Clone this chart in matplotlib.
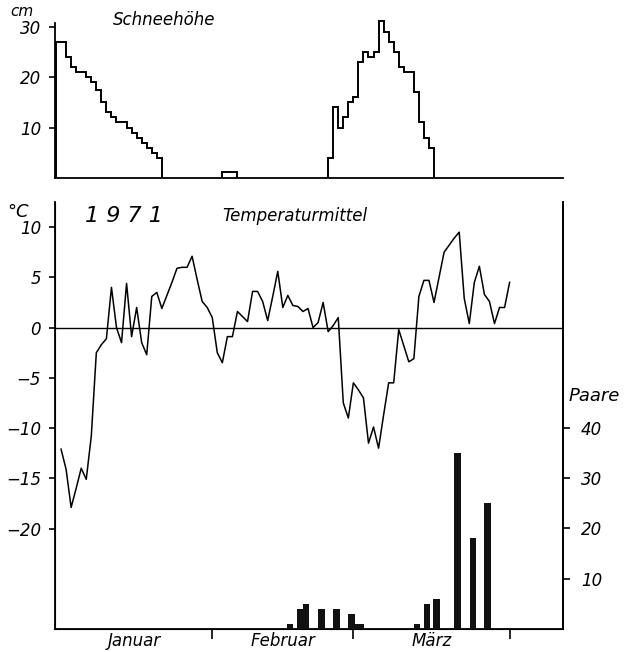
import matplotlib.pyplot as plt

plt.rcParams['font.family'] = ['DejaVu Sans']
plt.rcParams['font.style'] = 'italic'

# snow depth (cm), daily steps
snow1_start = 0
snow1 = [27, 27, 24, 22, 21, 21, 20, 19, 17.5, 15, 13, 12, 11, 11, 10, 9, 8, 7, 6, 5, 4]
snow2_start = 33
snow2 = [1.2, 1.2, 1.2]
snow3_start = 54
snow3 = [4, 14, 10, 12, 15, 16, 23, 25, 24, 25, 31, 29, 27, 25, 22, 21, 21, 17, 11, 8, 6]

# daily mean temperature (°C), Jan 1 = day 1
temp_jan = [-12.1, -14.1, -17.9, -16.0, -14.0, -15.1, -10.8, -2.5, -1.7, -1.1,
            4.0, 0.0, -1.5, 4.4, -0.9, 2.0, -1.5, -2.7, 3.1, 3.5,
            1.9, 3.2, 4.5, 5.9, 6.0, 6.0, 7.1, 4.8, 2.6, 2.0, 1.0]
temp_feb = [-2.5, -3.5, -0.9, -0.9, 1.6, 1.1, 0.6, 3.6, 3.6, 2.6,
            0.7, 3.1, 5.6, 2.0, 3.2, 2.2, 2.1, 1.6, 1.9, 0.0,
            0.5, 2.5, -0.4, 0.2, 1.0, -7.5, -9.0, -5.5]
temp_mar = [-6.2, -7.0, -11.5, -9.9, -12.0, -8.7, -5.5, -5.5, -0.2, -1.8,
            -3.4, -3.1, 3.1, 4.7, 4.7, 2.5, 5.0, 7.5, 8.2, 8.9,
            9.5, 2.9, 0.4, 4.5, 6.1, 3.3, 2.6, 0.4, 2.0, 2.0, 4.5]

# pairs (Paare)
pair_days = [46.4, 48.4, 49.6, 52.7, 55.6, 58.6, 60.2, 71.6, 73.6, 75.5, 79.7, 82.7, 85.6]
pairs = [1, 4, 5, 4, 4, 3, 1, 1, 5, 6, 35, 18, 25]

months = ['Januar', 'Februar', 'März']
month_ends = [31, 59, 90]

temp = temp_jan + temp_feb + temp_mar
days = list(range(1, len(temp) + 1))

W, H = 629, 652
fig = plt.figure(figsize=(W / 100, H / 100), dpi=100)
xlim = (-0.2, -0.2 + 508 / 5.04)

# --- snow panel
ax1 = fig.add_axes([55 / W, (H - 178) / H, 508 / W, 155 / H])
for start, vals in [(snow1_start, snow1), (snow2_start, snow2), (snow3_start, snow3)]:
    edges = list(range(start, start + len(vals) + 1))
    ax1.stairs(vals, edges, baseline=0, color='black', lw=1.4, clip_on=False)
ax1.set_xlim(xlim)
ax1.set_ylim(0, 30.7)
ax1.set_yticks([10, 20, 30])
ax1.set_xticks([])
for s in ['top', 'right']:
    ax1.spines[s].set_visible(False)
for s in ['left', 'bottom']:
    ax1.spines[s].set_linewidth(1.3)
ax1.tick_params(axis='y', direction='out', length=4, width=1.2, labelsize=12, pad=6)
ax1.patch.set_alpha(0)
fig.text(10 / W, 1 - 11 / H, 'cm', fontsize=11, va='center', ha='left')
fig.text(113 / W, 1 - 20 / H, 'Schneehöhe', fontsize=12, va='center', ha='left')

# --- temperature panel
ax2 = fig.add_axes([55 / W, (H - 629) / H, 508 / W, 427 / H])
ax2.plot(days, temp, color='black', lw=1.1)
ax2.axhline(0, color='black', lw=1.0)
ax2.set_xlim(xlim)
ax2.set_ylim(-30, 12.5)
ax2.set_yticks([10, 5, 0, -5, -10, -15, -20])
ax2.set_yticklabels(['10', '5', '0', '−5', '−10', '−15', '−20'])
ax2.set_xticks(month_ends)
ax2.set_xticklabels([])
centers = [(a + b) / 2 for a, b in zip([0] + month_ends[:-1], month_ends)]
ax2.set_xticks(centers, minor=True)
ax2.set_xticklabels(months, minor=True, fontsize=12)
ax2.tick_params(axis='x', which='minor', length=0, pad=2)
ax2.tick_params(axis='x', which='major', direction='out', length=7, width=1.2)
ax2.tick_params(axis='y', direction='out', length=4, width=1.2, labelsize=12, pad=6)
ax2.spines['top'].set_visible(False)
for s in ['left', 'right', 'bottom']:
    ax2.spines[s].set_linewidth(1.3)

ax3 = ax2.twinx()
ax3.bar(pair_days, pairs, width=[1.3] * 6 + [1.8] + [1.3] * 6, color='#111111')
ax3.set_ylim(0, 427 / 5.03)
ax3.set_yticks([10, 20, 30, 40])
ax3.tick_params(axis='y', direction='out', length=5, width=1.2, labelsize=12, pad=8)
ax3.spines['top'].set_visible(False)
ax3.spines['right'].set_linewidth(1.3)

fig.text(7 / W, 1 - 212 / H, '°C', fontsize=13, va='center', ha='left')
fig.text(85 / W, 1 - 216 / H, '1 9 7 1', fontsize=16, va='center', ha='left')
fig.text(222 / W, 1 - 216 / H, 'Temperaturmittel', fontsize=12, va='center', ha='left')
fig.text(569 / W, 1 - 396 / H, 'Paare', fontsize=13, va='center', ha='left')

fig.savefig('out.png', dpi=100)
